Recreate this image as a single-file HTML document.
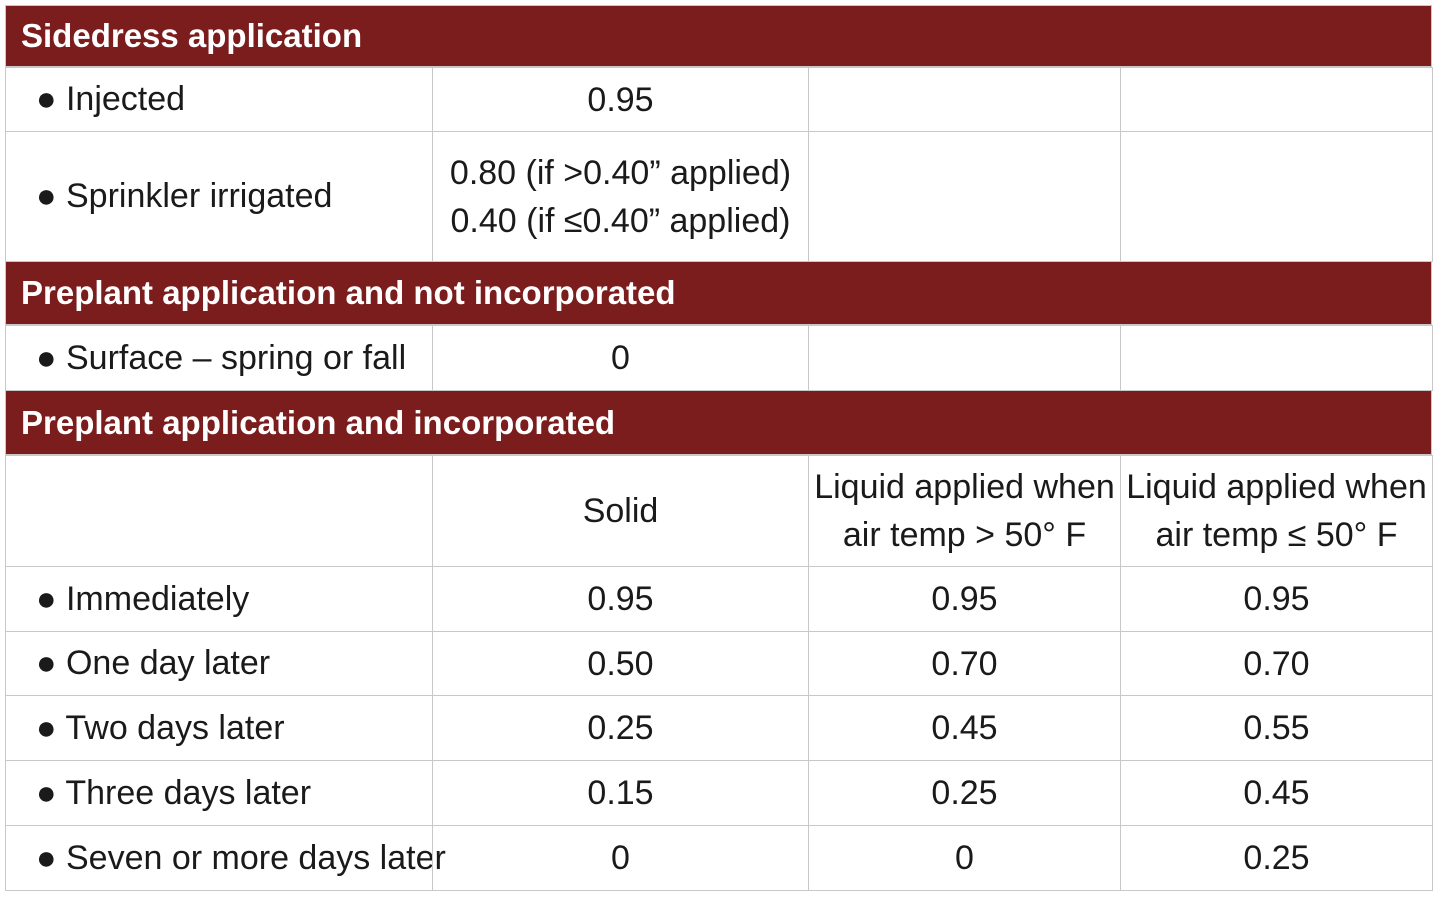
<!DOCTYPE html>
<html><head><meta charset="utf-8"><style>
body{margin:0;width:1440px;height:902px;background:#fff;font-family:"Liberation Sans Narrow","Liberation Sans",sans-serif;overflow:hidden}
.c{position:absolute;box-sizing:border-box;border:1px solid #c8c8c8;color:#1a1a1a;font-size:34px;display:flex;align-items:center;white-space:nowrap}
.h{position:absolute;background:#7b1c1d;color:#fff;font-weight:bold;font-size:33px;display:flex;align-items:center;padding-left:15px;box-sizing:border-box;border:1px solid #c8c8c8}
.l{padding-left:30px}
.m{justify-content:center;text-align:center;line-height:48px}
</style></head><body>
<div id="t"></div>
<script>
const rows=[
 {h:"Sidedress application",y:5,ht:62},
 {c:["● Injected","0.95","",""],y:67,ht:64},
 {c:["● Sprinkler irrigated","0.80 (if >0.40” applied)<br>0.40 (if ≤0.40” applied)","",""],y:131,ht:130},
 {h:"Preplant application and not incorporated",y:261,ht:64},
 {c:["● Surface – spring or fall","0","",""],y:325,ht:65},
 {h:"Preplant application and incorporated",y:390,ht:65},
 {c:["","Solid","Liquid applied when<br>air temp > 50° F","Liquid applied when<br>air temp ≤ 50° F"],y:455,ht:111},
 {c:["● Immediately","0.95","0.95","0.95"],y:566,ht:65},
 {c:["● One day later","0.50","0.70","0.70"],y:631,ht:64},
 {c:["● Two days later","0.25","0.45","0.55"],y:695,ht:65},
 {c:["● Three days later","0.15","0.25","0.45"],y:760,ht:65},
 {c:["● Seven or more days later","0","0","0.25"],y:825,ht:65}
];
const xs=[5,432,808,1120,1432];
const t=document.getElementById('t');
rows.forEach((r,i)=>{
 if(r.h){
  const d=document.createElement('div');d.className='h';
  
  
  d.style.cssText=`left:5px;top:${r.y}px;width:1427px;height:${r.ht}px`;
  d.textContent=r.h;t.appendChild(d);
 } else {
  r.c.forEach((v,j)=>{
   const d=document.createElement('div');d.className='c '+(j==0?'l':'m');
   
   
   d.style.cssText=`left:${xs[j]}px;top:${r.y}px;width:${xs[j+1]-xs[j]+1}px;height:${r.ht+1}px`;
   d.innerHTML=v;t.appendChild(d);
  });
 }
});
</script>
</body></html>
